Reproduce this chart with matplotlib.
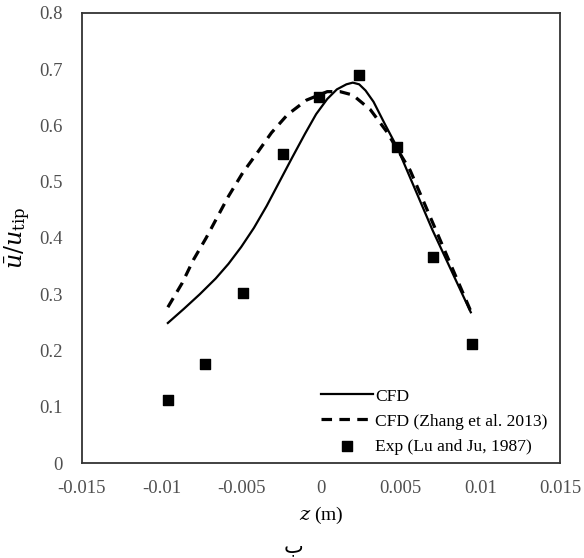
import matplotlib.pyplot as plt

# CFD (present work)
cfd_z = [-0.0096, -0.0086, -0.0076, -0.0066, -0.0058, -0.0050, -0.0042, -0.0034,
         -0.0026, -0.0018, -0.0010, -0.0003, 0.0004, 0.0010, 0.0016, 0.0020,
         0.0024, 0.0028, 0.0033, 0.0040, 0.0048, 0.0070, 0.0094]
cfd_u = [0.249, 0.274, 0.300, 0.328, 0.354, 0.384, 0.418, 0.457,
         0.500, 0.543, 0.585, 0.620, 0.647, 0.664, 0.673, 0.676,
         0.673, 0.662, 0.642, 0.603, 0.560, 0.414, 0.268]

# CFD (Zhang et al. 2013)
zh_z = [-0.0096, -0.0087, -0.0080, -0.0072, -0.0065, -0.0058, -0.0049, -0.0040,
        -0.0031, -0.0021, -0.0009, 0.0004, 0.0012, 0.0020, 0.0031, 0.0041,
        0.0056, 0.0075, 0.0094]
zh_u = [0.277, 0.320, 0.361, 0.400, 0.437, 0.474, 0.516, 0.551,
        0.587, 0.619, 0.645, 0.660, 0.660, 0.654, 0.628, 0.590,
        0.520, 0.395, 0.270]

# Exp (Lu and Ju, 1987)
exp_z = [-0.0096, -0.0073, -0.0049, -0.0024, -0.0001, 0.0024, 0.0048, 0.0070, 0.0095]
exp_u = [0.112, 0.176, 0.302, 0.549, 0.651, 0.690, 0.562, 0.366, 0.212]

xticks = [-0.015, -0.01, -0.005, 0, 0.005, 0.01, 0.015]
xlabels = ['-0.015', '-0.01', '-0.005', '0', '0.005', '0.01', '0.015']
yticks = [0, 0.1, 0.2, 0.3, 0.4, 0.5, 0.6, 0.7, 0.8]
ylabels = ['0', '0.1', '0.2', '0.3', '0.4', '0.5', '0.6', '0.7', '0.8']

plt.rcParams['font.family'] = ['Liberation Serif', 'DejaVu Serif', 'DejaVu Sans']
plt.rcParams['mathtext.fontset'] = 'dejavuserif'

fig = plt.figure(figsize=(5.84, 5.58), dpi=100)
ax = fig.add_axes([0.140, 0.170, 0.819, 0.807])

ax.plot(cfd_z, cfd_u, color='black', lw=1.6, label='CFD')
ax.plot(zh_z, zh_u, color='black', lw=2.3, ls=(0, (3.3, 2.3)), label='CFD (Zhang et al. 2013)')
ax.scatter(exp_z, exp_u, marker='s', s=45, color='black', zorder=3, label='Exp (Lu and Ju, 1987)')

ax.set_xlim(-0.015, 0.015)
ax.set_ylim(0, 0.8)
ax.set_xticks(xticks)
ax.set_xticklabels(xlabels)
ax.set_yticks(yticks)
ax.set_yticklabels(ylabels)
ax.tick_params(length=0, labelsize=13.5, colors='#505050')
ax.tick_params(axis='y', pad=14)
ax.tick_params(axis='x', pad=12)
for s in ax.spines.values():
    s.set_linewidth(1.3)
    s.set_color('#333333')

ax.set_xlabel(r'$z$ (m)', fontsize=14, labelpad=6)
ax.set_ylabel(r'$\bar{u}/u_{\mathrm{tip}}$', fontsize=17, labelpad=4)

ax.legend(loc='lower right', bbox_to_anchor=(1.003, -0.012), frameon=False, fontsize=12.6,
          handlelength=3.0, handletextpad=0.1, labelspacing=0.5, borderpad=0.3)

fig.text(0.502, 0.003, 'ب', fontsize=15, family=['DejaVu Sans'], ha='center', va='bottom')

fig.savefig('out.png')
